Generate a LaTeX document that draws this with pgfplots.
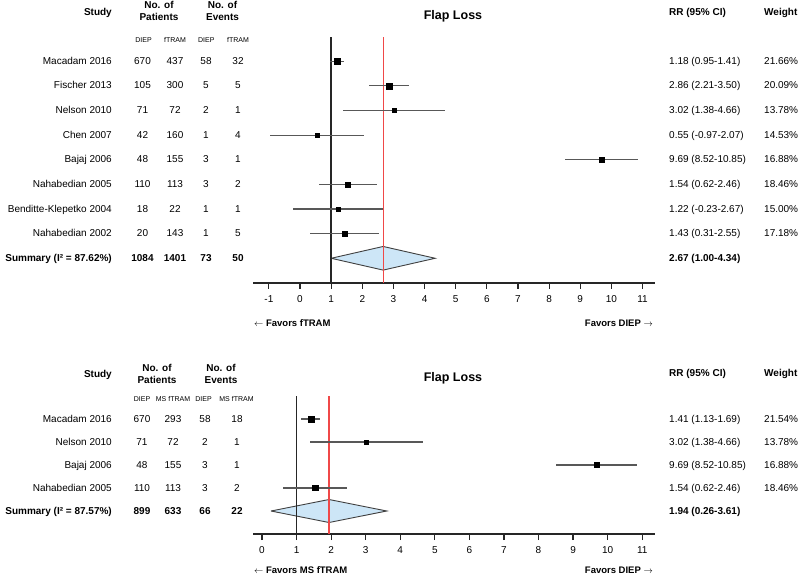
\documentclass[border=0pt]{standalone}
\usepackage{pgfplots}
\usepackage{pgfplotstable}
\pgfplotsset{compat=1.18}
\usepackage{fontspec}
\setmainfont{Liberation Sans}
\definecolor{diam}{HTML}{CDE6F7}
\definecolor{cigray}{HTML}{585858}
\definecolor{refred}{HTML}{F04848}
\definecolor{vline}{HTML}{262626}
\newcommand{\fs}[1]{\fontsize{#1}{#1}\selectfont}

\pgfplotsset{forest/.style={
  scale only axis, width=402pt,
  axis x line=bottom, axis y line=none,
  axis line style={-, line width=1.2pt, vline},
  tick align=outside, major tick length=6pt,
  tick style={vline, line width=1.2pt},
  xticklabel style={font=\fs{10}, yshift=-3pt},
  ytick=\empty, clip=false, ymin=0,
}}
\pgfplotsset{studies/.style={
  scatter, only marks, mark=square*, point meta=\thisrow{w},
  scatter/use mapped color={draw=black, fill=black},
  visualization depends on={0.12*\thisrow{w}+0.4 \as \ms},
  scatter/@pre marker code/.append style={/tikz/mark size=\ms},
  error bars/.cd, x dir=both, x explicit, error mark=none,
  error bar style={cigray, line width=1.1pt}
}}

% y, study, p1, p2, e1, e2, rr, weight  (top panel columns)
\newcommand{\trow}[8]{%
  \node[anchor=base east, inner sep=0] at (112,{-(#1)-3.6}) {#2};
  \node[anchor=base, inner sep=0] at (142.5,{-(#1)-3.6}) {#3};
  \node[anchor=base, inner sep=0] at (175,{-(#1)-3.6}) {#4};
  \node[anchor=base, inner sep=0] at (206,{-(#1)-3.6}) {#5};
  \node[anchor=base, inner sep=0] at (238,{-(#1)-3.6}) {#6};
  \node[anchor=base west, inner sep=0] at (669,{-(#1)-3.6}) {#7};
  \node[anchor=base west, inner sep=0] at (764,{-(#1)-3.6}) {#8};
}
\newcommand{\brow}[8]{%
  \node[anchor=base east, inner sep=0] at (112,{-(#1)-3.6}) {#2};
  \node[anchor=base, inner sep=0] at (142,{-(#1)-3.6}) {#3};
  \node[anchor=base, inner sep=0] at (173,{-(#1)-3.6}) {#4};
  \node[anchor=base, inner sep=0] at (205,{-(#1)-3.6}) {#5};
  \node[anchor=base, inner sep=0] at (237,{-(#1)-3.6}) {#6};
  \node[anchor=base west, inner sep=0] at (669,{-(#1)-3.6}) {#7};
  \node[anchor=base west, inner sep=0] at (764,{-(#1)-3.6}) {#8};
}

\pgfplotstableread{
rr lo hi y w
1.18 0.95 1.41 9 21.66
2.86 2.21 3.50 8 20.09
3.02 1.38 4.66 7 13.78
0.55 -0.97 2.07 6 14.53
9.69 8.52 10.85 5 16.88
1.54 0.62 2.46 4 18.46
1.22 -0.23 2.67 3 15.00
1.43 0.31 2.55 2 17.18
}\toptable
\pgfplotstableread{
rr lo hi y w
1.41 1.13 1.69 5 21.54
3.02 1.38 4.66 4 13.78
9.69 8.52 10.85 3 16.88
1.54 0.62 2.46 2 18.46
}\bottable

\begin{document}
\begin{tikzpicture}[x=1pt,y=1pt]
\path[use as bounding box] (0,0) rectangle (800,-575);

% ---------------- top panel ----------------
\begin{axis}[forest, at={(253pt,-282.9pt)}, anchor=south west,
  height=246.2pt, xmin=-1.51, xmax=11.40, ymax=10,
  xtick={-1,0,1,2,3,4,5,6,7,8,9,10,11},
  xticklabels={-1,0,1,2,3,4,5,6,7,8,9,10,11}]
\addplot[fill=diam, draw=black!75, line width=0.9pt] coordinates {(1.00,1) (2.67,1.48) (4.34,1) (2.67,0.52) (1.00,1)};
\addplot[draw=vline, line width=1.5pt] coordinates {(1,0) (1,10)};
\addplot[draw=refred, line width=1.1pt] coordinates {(2.67,0) (2.67,10)};
\addplot[draw=vline, line width=1.5pt] coordinates {(1,0) (1,10)};
\addplot[draw=refred, line width=1.1pt] coordinates {(2.67,0) (2.67,10)};
\addplot[studies] table[x=rr, y=y, x error plus expr=\thisrow{hi}-\thisrow{rr}, x error minus expr=\thisrow{rr}-\thisrow{lo}] {\toptable};
\end{axis}

\begin{scope}[every node/.style={font=\fs{10}}]
\node[anchor=base east, inner sep=0, font=\fs{10}\bfseries] at (112,-15.3) {Study};
\node[anchor=base, inner sep=0, font=\fs{10}\bfseries] at (159,-8.6) {No. of};
\node[anchor=base, inner sep=0, font=\fs{10}\bfseries] at (159,-20.9) {Patients};
\node[anchor=base, inner sep=0, font=\fs{10}\bfseries] at (222.5,-8.6) {No. of};
\node[anchor=base, inner sep=0, font=\fs{10}\bfseries] at (222.5,-20.9) {Events};
\node[anchor=base, inner sep=0, font=\fs{12.5}\bfseries] at (453,-19.5) {Flap Loss};
\node[anchor=base west, inner sep=0, font=\fs{10}\bfseries] at (669,-15.6) {RR (95\% CI)};
\node[anchor=base west, inner sep=0, font=\fs{10}\bfseries] at (764,-15.6) {Weight};
\node[anchor=base, inner sep=0, font=\fs{7}] at (143.5,-42.5) {DIEP};
\node[anchor=base, inner sep=0, font=\fs{7}] at (175,-42.5) {fTRAM};
\node[anchor=base, inner sep=0, font=\fs{7}] at (206.3,-42.5) {DIEP};
\node[anchor=base, inner sep=0, font=\fs{7}] at (238,-42.5) {fTRAM};
\trow{60.7}{Macadam 2016}{670}{437}{58}{32}{1.18 (0.95-1.41)}{21.66\%}
\trow{85.3}{Fischer 2013}{105}{300}{5}{5}{2.86 (2.21-3.50)}{20.09\%}
\trow{110.0}{Nelson 2010}{71}{72}{2}{1}{3.02 (1.38-4.66)}{13.78\%}
\trow{134.6}{Chen 2007}{42}{160}{1}{4}{0.55 (-0.97-2.07)}{14.53\%}
\trow{159.2}{Bajaj 2006}{48}{155}{3}{1}{9.69 (8.52-10.85)}{16.88\%}
\trow{183.8}{Nahabedian 2005}{110}{113}{3}{2}{1.54 (0.62-2.46)}{18.46\%}
\trow{208.4}{Benditte-Klepetko 2004}{18}{22}{1}{1}{1.22 (-0.23-2.67)}{15.00\%}
\trow{233.0}{Nahabedian 2002}{20}{143}{1}{5}{1.43 (0.31-2.55)}{17.18\%}
\begin{scope}[every node/.style={font=\fs{10}\bfseries}]
\trow{257.7}{Summary (I² = 87.62\%)}{1084}{1401}{73}{50}{2.67 (1.00-4.34)}{}
\end{scope}
\node[anchor=base west, inner sep=0, font=\fs{9.5}\bfseries] at (254,-326.4) {$\leftarrow$ Favors fTRAM};
\node[anchor=base east, inner sep=0, font=\fs{9.5}\bfseries] at (653,-326.4) {Favors DIEP $\rightarrow$};
\end{scope}

% ---------------- bottom panel ----------------
\begin{axis}[forest, at={(253pt,-534pt)}, anchor=south west,
  height=138pt, xmin=-0.26, xmax=11.37, ymax=6,
  xtick={0,1,2,3,4,5,6,7,8,9,10,11},
  xticklabels={0,1,2,3,4,5,6,7,8,9,10,11}]
\addplot[fill=diam, draw=black!75, line width=0.9pt] coordinates {(0.26,1) (1.94,1.5) (3.61,1) (1.94,0.5) (0.26,1)};
\addplot[draw=vline, line width=1.5pt] coordinates {(1,0) (1,6)};
\addplot[draw=refred, line width=1.1pt] coordinates {(1.94,0) (1.94,6)};
\addplot[draw=vline, line width=1.5pt] coordinates {(1,0) (1,6)};
\addplot[draw=refred, line width=1.1pt] coordinates {(1.94,0) (1.94,6)};
\addplot[studies] table[x=rr, y=y, x error plus expr=\thisrow{hi}-\thisrow{rr}, x error minus expr=\thisrow{rr}-\thisrow{lo}] {\bottable};
\end{axis}

\begin{scope}[every node/.style={font=\fs{10}}]
\node[anchor=base east, inner sep=0, font=\fs{10}\bfseries] at (112,-377.6) {Study};
\node[anchor=base, inner sep=0, font=\fs{10}\bfseries] at (157,-371.3) {No. of};
\node[anchor=base, inner sep=0, font=\fs{10}\bfseries] at (157,-383.6) {Patients};
\node[anchor=base, inner sep=0, font=\fs{10}\bfseries] at (221,-371.3) {No. of};
\node[anchor=base, inner sep=0, font=\fs{10}\bfseries] at (221,-383.6) {Events};
\node[anchor=base, inner sep=0, font=\fs{12.5}\bfseries] at (453,-381.5) {Flap Loss};
\node[anchor=base west, inner sep=0, font=\fs{10}\bfseries] at (669,-376.6) {RR (95\% CI)};
\node[anchor=base west, inner sep=0, font=\fs{10}\bfseries] at (764,-376.6) {Weight};
\node[anchor=base, inner sep=0, font=\fs{7}] at (142,-401.5) {DIEP};
\node[anchor=base, inner sep=0, font=\fs{7}] at (173,-401.5) {MS fTRAM};
\node[anchor=base, inner sep=0, font=\fs{7}] at (203.5,-401.5) {DIEP};
\node[anchor=base, inner sep=0, font=\fs{7}] at (236.5,-401.5) {MS fTRAM};
\brow{419}{Macadam 2016}{670}{293}{58}{18}{1.41 (1.13-1.69)}{21.54\%}
\brow{442}{Nelson 2010}{71}{72}{2}{1}{3.02 (1.38-4.66)}{13.78\%}
\brow{465}{Bajaj 2006}{48}{155}{3}{1}{9.69 (8.52-10.85)}{16.88\%}
\brow{488}{Nahabedian 2005}{110}{113}{3}{2}{1.54 (0.62-2.46)}{18.46\%}
\begin{scope}[every node/.style={font=\fs{10}\bfseries}]
\brow{511}{Summary (I² = 87.57\%)}{899}{633}{66}{22}{1.94 (0.26-3.61)}{}
\end{scope}
\node[anchor=base west, inner sep=0, font=\fs{9.5}\bfseries] at (254,-573.4) {$\leftarrow$ Favors MS fTRAM};
\node[anchor=base east, inner sep=0, font=\fs{9.5}\bfseries] at (653,-573.4) {Favors DIEP $\rightarrow$};
\end{scope}
\end{tikzpicture}
\end{document}
